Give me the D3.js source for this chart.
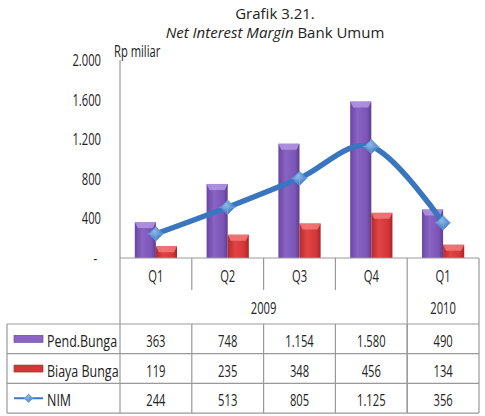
<!DOCTYPE html>
<html>
<head>
<meta charset="utf-8">
<script src="https://cdn.jsdelivr.net/npm/d3@7"></script>
<style>
  body { margin: 0; background: #fff; }
  text { font-family: "Open Sans", sans-serif; fill: #222; }
</style>
</head>
<body>
<div id="chart"></div>
<script>
// data
const quarters = ["Q1", "Q2", "Q3", "Q4", "Q1"];
const years = [{ label: "2009", from: 0, to: 3 }, { label: "2010", from: 4, to: 4 }];
const pendBunga = [363, 748, 1154, 1580, 490];
const biayaBunga = [119, 235, 348, 456, 134];
const nim = [244, 513, 805, 1125, 356];
const yTicks = [0, 400, 800, 1200, 1600, 2000];
const seriesNames = ["Pend.Bunga", "Biaya Bunga", "NIM"];

const fmt = (v) => v === 0 ? "-" : d3.format(",")(v).replace(/,/g, ".");

const W = 485, H = 416;
const plotLeft = 120, plotRight = 479, plotTop = 60, plotBottom = 258;

const svg = d3.select("#chart").append("svg")
  .attr("width", W).attr("height", H);

// condensed-looking text: the original font is narrow, so squeeze horizontally
function label(g, tx, ty, str, anchor, sx, size) {
  return g.append("text")
    .attr("transform", "translate(" + tx + "," + ty + ") scale(" + sx + ",1)")
    .attr("text-anchor", anchor)
    .style("font-size", (size || 16) + "px")
    .text(str);
}

// gradients for 3d-ish bars
const defs = svg.append("defs");
function grad(id, stops) {
  const g = defs.append("linearGradient").attr("id", id)
    .attr("x1", 0).attr("x2", 1).attr("y1", 0).attr("y2", 0);
  stops.forEach(s => g.append("stop").attr("offset", s[0]).attr("stop-color", s[1]));
}
grad("gPend", [[0, "#6a45a3"], [0.35, "#8a64c4"], [0.8, "#7a55b5"], [1, "#5d3c92"]]);
grad("gBiaya", [[0, "#b52a2a"], [0.35, "#e04444"], [0.8, "#d33636"], [1, "#a82424"]]);
const rg = defs.append("radialGradient").attr("id", "gMark").attr("cx", 0.4).attr("cy", 0.35).attr("r", 0.7);
rg.append("stop").attr("offset", 0).attr("stop-color", "#8fbde9");
rg.append("stop").attr("offset", 1).attr("stop-color", "#336fb8");

// scales
const x = d3.scaleBand().domain(d3.range(quarters.length)).range([plotLeft, plotRight]);
const xSub = d3.scaleBand().domain([0, 1]).range([0, x.bandwidth()]).paddingOuter(0.7);
const y = d3.scaleLinear().domain([0, 2000]).range([plotBottom, plotTop]);

// title
svg.append("text").attr("x", 275).attr("y", 19)
  .attr("text-anchor", "middle").style("font-size", "15px")
  .text("Grafik 3.21.");
const t2 = svg.append("text").attr("x", 275).attr("y", 38)
  .attr("text-anchor", "middle").style("font-size", "15px");
t2.append("tspan").style("font-style", "italic").text("Net Interest Margin");
t2.append("tspan").text(" Bank Umum");

// y axis
svg.append("line").attr("x1", plotLeft).attr("x2", plotLeft).attr("y1", plotTop).attr("y2", plotBottom)
  .attr("stroke", "#999").attr("stroke-width", 1.2);
const ya = svg.append("g");
yTicks.forEach(t => label(ya, t === 0 ? 97 : 101, y(t) + 6, fmt(t), "end", 0.7));
label(svg, 114, 57, "Rp miliar", "start", 0.7);

// bars
function bars(vals, sub, fillId, cap) {
  const g = svg.append("g");
  vals.forEach((v, i) => {
    const bx = x(i) + xSub(sub), bw = xSub.bandwidth();
    const by = y(v), bh = plotBottom - y(v);
    g.append("rect").attr("x", bx).attr("y", by).attr("width", bw).attr("height", bh)
      .attr("fill", "url(#" + fillId + ")");
    // bevel top
    g.append("path")
      .attr("d", `M${bx},${by} L${bx + bw},${by} L${bx + bw - 3},${by + 6} L${bx + 3},${by + 6} Z`)
      .attr("fill", cap).attr("opacity", 0.85);
  });
}
bars(pendBunga, 0, "gPend", "#b397e3");
bars(biayaBunga, 1, "gBiaya", "#f27b7b");

// NIM line
const cx = i => x(i) + x.bandwidth() / 2;
const line = d3.line().x((d, i) => cx(i)).y(d => y(d)).curve(d3.curveCatmullRom.alpha(0));
svg.append("path").datum(nim).attr("d", line)
  .attr("fill", "none").attr("stroke", "#3a76c0").attr("stroke-width", 5.5)
  .attr("stroke-linecap", "round");

function marker(g, mx, my, s) {
  g.append("path")
    .attr("d", `M${mx},${my - s} L${mx + s},${my} L${mx},${my + s} L${mx - s},${my} Z`)
    .attr("fill", "url(#gMark)").attr("stroke", "#5d95d0").attr("stroke-width", 1);
  g.append("path")
    .attr("d", `M${mx - s * 1.2},${my} L${mx + s * 1.2},${my} M${mx},${my - s * 1.2} L${mx},${my + s * 1.2}`)
    .attr("stroke", "#7fb0e3").attr("stroke-width", 0.8).attr("opacity", 0.8);
}
const mg = svg.append("g");
nim.forEach((v, i) => marker(mg, cx(i), y(v), 7));

// table
const grid = "#999";
const rowH = 29.7;
const rowTop = 324;
const tLeft = 7;
function hline(x1, x2, yy) {
  svg.append("line").attr("x1", x1).attr("x2", x2).attr("y1", yy).attr("y2", yy)
    .attr("stroke", grid).attr("stroke-width", 1.2);
}
function vline(xx, y1, y2) {
  svg.append("line").attr("x1", xx).attr("x2", xx).attr("y1", y1).attr("y2", y2)
    .attr("stroke", grid).attr("stroke-width", 1.2);
}
hline(plotLeft, plotRight, plotBottom);
// header quarter dividers
d3.range(1, quarters.length).forEach(i => {
  if (i === 4) vline(x(i), plotBottom, rowTop + 3 * rowH);
  else vline(x(i), plotBottom, 290);
});
vline(plotLeft, plotBottom, rowTop + 3 * rowH);
vline(plotRight, plotBottom, rowTop + 3 * rowH);
vline(tLeft, rowTop, rowTop + 3 * rowH);
for (let r = 0; r <= 3; r++) hline(tLeft, plotRight, rowTop + r * rowH);
d3.range(1, quarters.length).forEach(i => vline(x(i), rowTop, rowTop + 3 * rowH));

const tg = svg.append("g");
quarters.forEach((q, i) => label(tg, cx(i), 282, q, "middle", 0.7));
years.forEach(yr => {
  label(tg, (x(yr.from) + x(yr.to) + x.bandwidth()) / 2, 314, yr.label, "middle", 0.7);
});

[pendBunga, biayaBunga, nim].forEach((vals, r) => {
  const ty = rowTop + r * rowH + 23;
  vals.forEach((v, i) => label(tg, cx(i), ty, fmt(v), "middle", 0.7));
  label(tg, 47, ty, seriesNames[r], "start", 0.78);
  const ky = rowTop + r * rowH + rowH / 2;
  if (r < 2) {
    svg.append("rect").attr("x", 14).attr("y", ky - 3.5).attr("width", 29).attr("height", 7)
      .attr("fill", r === 0 ? "#8a64c4" : "#d33636").attr("stroke", r === 0 ? "#5d3c92" : "#a82424")
      .attr("stroke-width", 0.6);
  } else {
    svg.append("line").attr("x1", 14).attr("x2", 43).attr("y1", ky).attr("y2", ky)
      .attr("stroke", "#3a76c0").attr("stroke-width", 2);
    marker(svg, 28.5, ky, 4);
  }
});
</script>
</body>
</html>
